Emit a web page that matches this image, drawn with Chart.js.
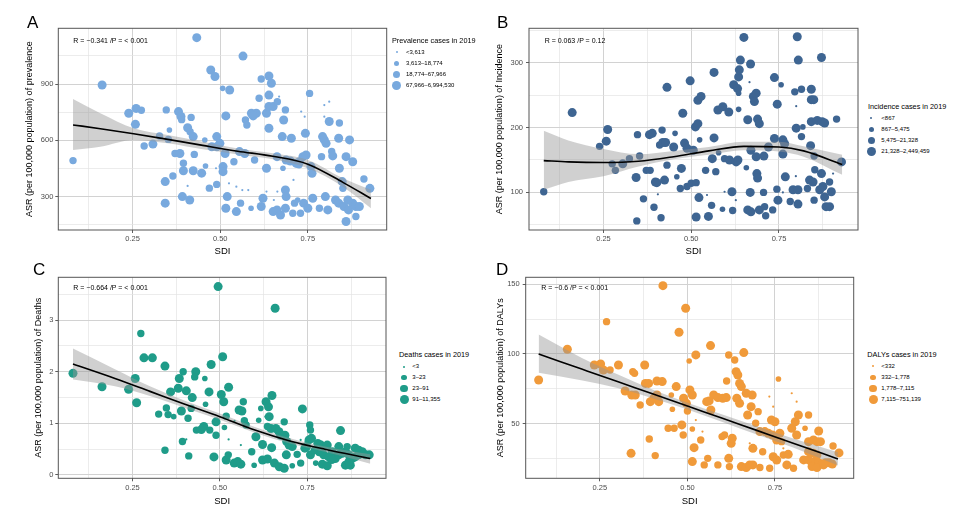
<!DOCTYPE html>
<html>
<head>
<meta charset="utf-8">
<script src="https://cdn.jsdelivr.net/npm/chart.js@4.4.0/dist/chart.umd.min.js"></script>
<style>
  html, body { margin: 0; padding: 0; background: #fff; }
  #page { position: relative; width: 966px; height: 509px; overflow: hidden; font-family: 'Liberation Sans', Arial, sans-serif; }
  .box { position: absolute; }
  .txt { position: absolute; white-space: nowrap; color: #000; }
  .dot { position: absolute; border-radius: 50%; }
</style>
</head>
<body>
<div id="page"></div>
<script>
(function() {
	'use strict';

	// shared x axis (SDI)
	const sdiMin = 0.038, sdiMax = 0.975;
	const xMajor = [0.25, 0.5, 0.75];
	const xMinor = [0.125, 0.375, 0.625, 0.875];
	const xLabels = ['0.25', '0.50', '0.75'];
	const radii = [1.1, 2.8, 3.7, 4.5];

	// A - prevalence
	const prevMajor = [300, 600, 900];
	const prevMinor = [150, 450, 750, 1050];
	const prevLabels = ['300', '600', '900'];
	const prevLegend = ['<3,613', '3,613–18,774', '18,774–67,966', '67,966–6,994,530'];
	const prevFitX = [0.08, 0.158, 0.253, 0.35, 0.45, 0.55, 0.65, 0.75, 0.85, 0.93];
	const prevFit = [682, 662, 635, 605, 573, 542, 515, 473, 376, 290];
	const prevHi = [820, 744, 664, 628, 593, 557, 531, 495, 398, 336];
	const prevLo = [548, 566, 602, 584, 552, 525, 499, 451, 353, 238];
	const prevPts = [
		[0.080,492,3],[0.163,895,4],[0.239,744,4],[0.260,770,4],[0.275,760,3],[0.258,685,4],[0.283,570,3],[0.308,580,4],
		[0.327,623,3],[0.346,762,3],[0.352,605,3],[0.355,655,2],[0.371,530,3],[0.385,530,4],[0.343,380,4],[0.343,265,4],
		[0.365,410,3],[0.381,753,4],[0.388,727,4],[0.390,710,3],[0.417,722,3],[0.395,478,3],[0.395,438,4],[0.407,667,4],
		[0.414,646,3],[0.423,620,4],[0.426,525,3],[0.392,300,4],[0.413,282,4],[0.407,357,1],[0.423,438,4],[0.433,1147,4],
		[0.447,425,4],[0.456,602,2],[0.458,463,2],[0.469,345,3],[0.473,975,4],[0.485,940,4],[0.476,566,4],[0.490,566,4],
		[0.499,584,4],[0.490,620,4],[0.490,365,3],[0.507,877,2],[0.527,868,4],[0.514,530,4],[0.508,460,4],[0.508,433,4],
		[0.516,730,4],[0.488,451,1],[0.520,300,4],[0.516,238,4],[0.539,486,3],[0.546,220,4],[0.558,265,3],[0.525,371,1],
		[0.546,353,1],[0.563,335,1],[0.580,335,1],[0.565,1049,4],[0.555,540,4],[0.570,530,4],[0.572,708,3],[0.576,682,3],
		[0.589,744,4],[0.603,744,4],[0.594,730,4],[0.588,238,2],[0.598,495,3],[0.611,824,3],[0.617,927,3],[0.622,291,4],
		[0.617,247,4],[0.632,744,4],[0.639,780,4],[0.639,943,4],[0.646,904,4],[0.639,841,4],[0.632,451,4],[0.639,664,4],
		[0.651,780,4],[0.651,220,4],[0.662,229,4],[0.672,202,4],[0.653,282,1],[0.662,513,4],[0.663,806,3],[0.668,833,1],
		[0.677,620,4],[0.681,708,4],[0.686,762,3],[0.688,495,4],[0.679,451,2],[0.686,335,4],[0.688,300,4],[0.686,238,4],
		[0.703,611,4],[0.707,211,3],[0.712,265,3],[0.709,389,1],[0.717,477,4],[0.726,486,4],[0.731,753,1],[0.741,726,1],
		[0.729,211,3],[0.721,282,2],[0.736,513,4],[0.745,522,4],[0.738,265,4],[0.750,238,4],[0.743,637,4],[0.755,850,3],
		[0.759,460,4],[0.762,424,4],[0.764,291,4],[0.789,513,3],[0.792,620,4],[0.797,602,4],[0.802,584,4],[0.797,788,1],
		[0.811,806,1],[0.797,726,1],[0.811,700,4],[0.818,540,3],[0.783,238,3],[0.800,300,4],[0.807,229,4],[0.821,517,4],
		[0.840,451,4],[0.838,611,4],[0.840,692,3],[0.848,380,4],[0.850,344,3],[0.859,513,4],[0.878,486,4],[0.869,602,4],
		[0.829,282,4],[0.838,265,4],[0.853,247,4],[0.866,229,4],[0.878,265,4],[0.887,247,4],[0.897,247,4],[0.859,167,4],
		[0.887,194,3],[0.910,394,3],[0.927,344,4],[0.864,282,4],[0.632,327,1],[0.663,327,1],[0.700,490,4],[0.725,470,3]
	];

	// B - incidence
	const incMajor = [100, 200, 300];
	const incMinor = [50, 150, 250, 350];
	const incLabels = ['100', '200', '300'];
	const incLegend = ['<867', '867–5,475', '5,475–21,328', '21,328–2,449,459'];
	const incFitX = [0.08, 0.15, 0.25, 0.35, 0.45, 0.55, 0.65, 0.75, 0.82, 0.93];
	const incFit = [149, 147, 146, 148, 155, 164, 171, 170, 164, 143];
	const incHi = [195, 180, 167, 159, 164, 170, 178, 178, 171, 158];
	const incLo = [104, 116, 125, 140, 151, 158, 165, 163, 155, 127];
	const incPts = [
		[0.080,101,3],[0.161,223,4],[0.239,171,3],[0.258,179,4],[0.262,197,4],[0.275,144,3],[0.284,134,3],[0.305,144,4],
		[0.324,152,3],[0.343,123,4],[0.345,56,3],[0.347,189,3],[0.353,156,3],[0.364,90,3],[0.372,134,3],[0.383,134,3],
		[0.381,189,4],[0.389,191,4],[0.394,77,3],[0.398,116,4],[0.402,115,4],[0.405,97,1],[0.410,173,3],[0.414,61,3],
		[0.417,196,3],[0.419,177,4],[0.427,177,4],[0.424,119,4],[0.431,262,4],[0.431,142,3],[0.450,170,4],[0.454,191,2],
		[0.459,124,2],[0.469,106,3],[0.472,137,4],[0.476,222,4],[0.481,176,4],[0.488,168,4],[0.488,109,3],[0.500,114,3],
		[0.514,115,3],[0.497,272,4],[0.506,165,4],[0.512,201,4],[0.519,206,4],[0.519,242,4],[0.528,248,4],[0.514,62,4],
		[0.522,92,4],[0.524,181,2],[0.541,134,3],[0.549,63,4],[0.560,152,4],[0.565,285,4],[0.565,184,4],[0.570,132,3],
		[0.558,80,3],[0.578,161,2],[0.576,227,4],[0.590,232,4],[0.607,224,4],[0.589,74,2],[0.595,152,3],[0.609,150,4],
		[0.628,147,4],[0.633,150,4],[0.616,101,4],[0.618,72,3],[0.621,266,4],[0.632,260,4],[0.635,278,4],[0.637,289,4],
		[0.640,304,4],[0.635,253,2],[0.635,228,2],[0.650,339,4],[0.657,138,2],[0.661,212,4],[0.661,73,4],[0.670,70,4],
		[0.694,73,4],[0.669,298,4],[0.668,100,4],[0.670,165,4],[0.677,248,4],[0.685,253,4],[0.680,240,4],[0.685,155,4],
		[0.687,129,4],[0.689,122,4],[0.689,213,4],[0.694,206,4],[0.706,100,3],[0.707,156,4],[0.709,78,3],[0.712,64,3],
		[0.720,170,4],[0.732,73,3],[0.737,277,4],[0.737,183,4],[0.745,236,4],[0.744,105,3],[0.747,88,4],[0.756,266,2],
		[0.761,181,4],[0.766,175,4],[0.761,159,4],[0.768,124,4],[0.782,86,3],[0.790,104,4],[0.804,104,4],[0.795,255,3],
		[0.799,199,4],[0.802,340,4],[0.805,304,4],[0.804,82,4],[0.814,259,3],[0.814,186,3],[0.818,201,2],[0.831,106,3],
		[0.837,119,4],[0.847,116,4],[0.842,259,4],[0.842,243,4],[0.849,243,4],[0.842,209,4],[0.840,172,4],[0.850,156,3],
		[0.852,135,3],[0.850,88,3],[0.859,211,4],[0.873,209,4],[0.880,207,4],[0.871,308,4],[0.866,104,4],[0.875,109,4],
		[0.880,93,4],[0.871,129,4],[0.884,78,4],[0.894,78,4],[0.894,116,3],[0.899,101,4],[0.914,213,3],[0.928,147,4],
		[0.666,270,1],[0.761,100,1],[0.799,233,1],[0.798,125,1],[0.904,129,1],[0.545,96,1],[0.595,101,1],[0.627,88,1]
	];

	// C - deaths
	const dthMajor = [0, 1, 2, 3];
	const dthMinor = [0.5, 1.5, 2.5, 3.5];
	const dthLabels = ['0', '1', '2', '3'];
	const dthLegend = ['<3', '3–23', '23–91', '91–11,355'];
	const dthFitX = [0.08, 0.2, 0.3, 0.4, 0.5, 0.6, 0.7, 0.8, 0.93];
	const dthFit = [2.15, 1.87, 1.62, 1.37, 1.13, 0.87, 0.66, 0.50, 0.32];
	const dthHi = [2.45, 2.05, 1.72, 1.44, 1.19, 0.93, 0.71, 0.55, 0.40];
	const dthLo = [1.85, 1.72, 1.53, 1.30, 1.07, 0.82, 0.61, 0.45, 0.22];
	const dthPts = [
		[0.080,1.97,4],[0.163,1.71,4],[0.239,1.66,4],[0.258,1.87,4],[0.262,1.40,4],[0.274,2.74,3],[0.283,2.27,4],[0.307,2.27,4],
		[0.325,1.18,3],[0.343,2.11,4],[0.343,0.48,3],[0.347,1.30,3],[0.352,1.17,3],[0.359,1.61,4],[0.368,1.13,2],[0.384,1.87,4],
		[0.381,1.68,4],[0.395,2.00,3],[0.393,0.65,3],[0.390,1.24,4],[0.404,1.63,4],[0.409,1.10,3],[0.411,0.37,3],[0.418,1.29,3],
		[0.421,1.50,4],[0.431,2.00,4],[0.428,1.90,3],[0.433,0.87,3],[0.447,0.88,4],[0.454,0.94,4],[0.457,1.87,2],[0.459,1.37,2],
		[0.469,1.61,4],[0.471,0.87,3],[0.475,2.14,4],[0.483,0.35,4],[0.489,0.77,3],[0.489,1.03,4],[0.495,3.65,4],[0.504,1.56,4],
		[0.511,1.42,4],[0.508,2.29,4],[0.513,0.92,2],[0.518,1.14,3],[0.518,0.29,4],[0.524,0.39,3],[0.525,0.69,1],[0.525,1.70,4],
		[0.541,0.23,4],[0.551,0.26,4],[0.560,0.21,4],[0.555,1.26,4],[0.563,1.24,4],[0.567,1.42,3],[0.570,1.05,3],[0.575,0.97,3],
		[0.591,0.45,3],[0.598,0.19,2],[0.603,0.74,4],[0.611,1.06,2],[0.617,1.29,2],[0.622,0.59,4],[0.622,0.29,4],[0.636,0.31,4],
		[0.630,1.13,1],[0.632,1.42,4],[0.639,1.32,4],[0.641,1.13,4],[0.636,0.94,3],[0.646,0.90,4],[0.649,1.54,4],[0.648,0.53,4],
		[0.658,3.23,4],[0.660,0.90,4],[0.669,0.84,4],[0.674,0.77,4],[0.656,0.23,4],[0.670,0.16,4],[0.684,0.13,4],[0.684,1.03,3],
		[0.686,0.77,4],[0.691,0.65,4],[0.698,0.58,4],[0.707,0.55,4],[0.690,0.39,4],[0.707,0.18,2],[0.721,0.40,3],[0.736,1.28,4],
		[0.731,0.23,3],[0.743,0.52,4],[0.748,0.55,4],[0.757,0.97,3],[0.759,0.87,3],[0.755,0.68,4],[0.762,0.71,4],[0.759,0.39,4],
		[0.745,0.65,1],[0.774,0.23,2],[0.780,0.61,4],[0.789,0.58,4],[0.797,0.55,4],[0.807,0.58,4],[0.784,0.45,4],[0.797,0.39,4],
		[0.811,0.35,4],[0.793,0.21,4],[0.807,0.18,4],[0.821,0.45,4],[0.830,0.32,4],[0.840,0.39,4],[0.850,0.42,4],[0.859,0.45,4],
		[0.869,0.39,4],[0.878,0.32,4],[0.887,0.35,4],[0.897,0.39,4],[0.907,0.45,4],[0.916,0.39,4],[0.845,0.86,4],[0.840,0.55,4],
		[0.864,0.55,3],[0.859,0.19,4],[0.873,0.19,4],[0.869,0.26,4],[0.887,0.52,4],[0.897,0.48,4],[0.927,0.39,4],[0.911,0.42,3],
		[0.542,1.05,1],[0.404,0.69,1],[0.560,0.58,1],[0.731,0.68,1],[0.820,0.30,4],[0.770,0.48,3]
	];

	// D - DALYs
	const dalyMajor = [50, 100, 150];
	const dalyMinor = [25, 75, 125];
	const dalyLabels = ['50', '100', '150'];
	const dalyLegend = ['<332', '332–1,778', '1,778–7,115', '7,115–751,139'];
	const dalyFitX = [0.075, 0.2, 0.3, 0.4, 0.5, 0.6, 0.7, 0.8, 0.93];
	const dalyFit = [100, 89, 80.2, 71.4, 62.6, 53.8, 45, 36.2, 24.7];
	const dalyHi = [114, 97, 85.5, 74.5, 65, 56.5, 48, 39.5, 29.5];
	const dalyLo = [86.5, 81, 75.5, 68.3, 60.2, 51.2, 42, 33, 20];
	const dalyPts = [
		[0.075,81.3,4],[0.157,103.4,4],[0.234,92.1,4],[0.252,92.8,4],[0.260,88.5,4],[0.279,88.5,3],[0.269,123.2,3],[0.303,92.1,4],
		[0.322,73.4,4],[0.341,70.6,4],[0.351,70.6,4],[0.344,87.3,3],[0.349,86.1,3],[0.339,28.7,4],[0.365,63.4,3],[0.378,92.1,4],
		[0.380,78.9,4],[0.389,78.9,4],[0.394,65.8,4],[0.404,68.2,4],[0.391,39.0,3],[0.408,27.1,3],[0.413,80.6,4],[0.428,80.2,4],
		[0.413,70.6,4],[0.418,65.8,4],[0.430,149,4],[0.445,46.7,3],[0.454,70.6,2],[0.457,60.3,2],[0.462,46.7,3],[0.468,76.6,4],
		[0.476,115.6,4],[0.484,49.1,4],[0.488,41.9,3],[0.489,68.2,4],[0.497,64.6,4],[0.495,132.8,4],[0.500,59.1,3],[0.507,74.2,4],
		[0.514,70.6,4],[0.505,95,2],[0.514,46.2,2],[0.519,32.8,4],[0.524,99.3,4],[0.514,22.8,4],[0.538,38.3,3],[0.548,20.4,3],
		[0.555,65.8,4],[0.562,66.3,4],[0.558,25.1,3],[0.566,106,4],[0.567,59.8,4],[0.575,70.6,4],[0.587,68.7,4],[0.601,68.2,4],
		[0.611,68.7,4],[0.587,20.4,3],[0.599,40.7,3],[0.606,41.9,3],[0.618,99.3,3],[0.612,80.6,3],[0.618,25.1,4],[0.620,19.2,3],
		[0.625,35.9,4],[0.628,39.5,4],[0.635,95.7,3],[0.639,87.3,4],[0.644,84.9,4],[0.641,68.2,4],[0.649,64.6,4],[0.649,78.9,4],
		[0.654,76.6,4],[0.654,19.2,4],[0.668,18.5,4],[0.678,20.4,4],[0.661,101,4],[0.668,71.8,4],[0.672,56.2,4],[0.682,62.2,4],
		[0.685,70.6,4],[0.687,32.3,4],[0.687,20.4,4],[0.707,18.5,3],[0.695,50.3,3],[0.702,58.6,3],[0.707,44.3,4],[0.721,44.3,4],
		[0.731,43.1,4],[0.715,29.9,3],[0.735,18.0,3],[0.740,52.6,4],[0.750,51.4,4],[0.743,41.9,4],[0.755,38.3,4],[0.745,26.3,4],
		[0.755,23.9,4],[0.760,82.0,2],[0.764,43.1,4],[0.769,37.1,3],[0.774,27.5,3],[0.784,20.4,4],[0.788,28.0,4],[0.798,46.7,4],
		[0.808,51.4,4],[0.812,41.9,4],[0.803,18.0,3],[0.817,56.2,4],[0.836,46.7,2],[0.846,56.2,3],[0.846,37.1,4],[0.860,38.3,4],
		[0.870,37.1,4],[0.880,37.1,4],[0.875,44.7,4],[0.832,24.0,4],[0.846,24.0,4],[0.856,22.0,4],[0.866,23.0,4],[0.875,22.0,4],
		[0.885,21.0,4],[0.895,22.0,4],[0.904,22.0,4],[0.914,21.0,4],[0.846,29.9,4],[0.860,28.7,4],[0.870,27.5,4],[0.856,19.2,4],
		[0.870,18.5,4],[0.889,20.4,4],[0.916,34.0,3],[0.933,29.0,4],[0.734,69.4,1],[0.745,62.2,1],[0.812,65.8,1],[0.798,71.8,1],
		[0.524,52.6,1],[0.543,44.3,1],[0.678,35.9,1],[0.745,27.5,1],[0.774,32.3,1]
	];

	const page = document.getElementById('page');
	const FONT = "'Liberation Sans', Arial, sans-serif";

	function addText(text, left, cy, size, extra) {
		const d = document.createElement('div');
		d.className = 'txt';
		d.textContent = text;
		const lh = Math.round(size * 1.2);
		d.style.left = left + 'px';
		d.style.top = (cy - lh / 2) + 'px';
		d.style.fontSize = size + 'px';
		d.style.lineHeight = lh + 'px';
		if (extra) Object.assign(d.style, extra);
		page.appendChild(d);
	}

	function addLegend(p) {
		addText(p.legendTitle, p.lgX, p.lgY, 7.3);
		p.legend.forEach((lab, i) => {
			const r = radii[i];
			const cy = p.lgY + 12.3 + i * 11;
			const dot = document.createElement('div');
			dot.className = 'dot';
			dot.style.width = (2 * r) + 'px';
			dot.style.height = (2 * r) + 'px';
			dot.style.left = (p.lgX + p.dotDx - r) + 'px';
			dot.style.top = (cy - r) + 'px';
			dot.style.background = p.color;
			page.appendChild(dot);
			addText(lab, p.lgX + p.textDx, cy, 6);
		});
	}

	const near = (list, v) => list.findIndex(m => Math.abs(m - v) < 1e-6);

	const framePlugin = {
		id: 'frame',
		afterDraw(chart) {
			const { ctx, chartArea: a } = chart;
			ctx.save();
			ctx.strokeStyle = '#555';
			ctx.lineWidth = 1;
			ctx.strokeRect(a.left, a.top, a.right - a.left, a.bottom - a.top);
			ctx.restore();
		}
	};

	function gridOpts(major) {
		return {
			color: c => near(major, c.tick.value) >= 0 ? '#d2d2d2' : '#e4e4e4',
			lineWidth: c => near(major, c.tick.value) >= 0 ? 1 : 0.7,
			tickColor: c => near(major, c.tick.value) >= 0 ? '#333' : 'rgba(0,0,0,0)',
			tickLength: 3,
			tickWidth: 0.8,
			drawTicks: true
		};
	}

	function makePanel(p) {
		const wrap = document.createElement('div');
		wrap.className = 'box';
		wrap.style.left = p.cx + 'px';
		wrap.style.top = p.cy + 'px';
		wrap.style.width = p.cw + 'px';
		wrap.style.height = p.ch + 'px';
		const cv = document.createElement('canvas');
		wrap.appendChild(cv);
		page.appendChild(wrap);

		const line = (ys) => p.fitX.map((x, i) => ({ x, y: ys[i] }));

		new Chart(cv.getContext('2d'), {
			type: 'scatter',
			data: {
				datasets: [
					{
						data: p.pts.map(r => ({ x: r[0], y: r[1] })),
						pointRadius: p.pts.map(r => radii[r[2] - 1]),
						pointBackgroundColor: p.color,
						pointBorderWidth: 0,
						order: 3
					},
					{
						type: 'line', data: line(p.hi), borderWidth: 0, pointRadius: 0,
						fill: '+1', backgroundColor: 'rgba(150,150,150,0.45)', cubicInterpolationMode: 'monotone', order: 2
					},
					{
						type: 'line', data: line(p.lo), borderWidth: 0, pointRadius: 0,
						fill: false, cubicInterpolationMode: 'monotone', order: 2
					},
					{
						type: 'line', data: line(p.fit), borderColor: '#000', borderWidth: 1.6, pointRadius: 0,
						fill: false, cubicInterpolationMode: 'monotone', order: 1
					}
				]
			},
			options: {
				responsive: true,
				maintainAspectRatio: false,
				animation: false,
				events: [],
				layout: { padding: { left: 0, top: p.T - p.cy, right: p.cx + p.cw - p.R, bottom: 0 } },
				plugins: { legend: { display: false }, tooltip: { enabled: false } },
				scales: {
					x: {
						type: 'linear', min: sdiMin, max: sdiMax,
						afterBuildTicks: s => { s.ticks = xMajor.concat(xMinor).sort((a, b) => a - b).map(v => ({ value: v })); },
						afterFit: s => { s.height = p.cy + p.ch - p.B; },
						ticks: {
							autoSkip: false, maxRotation: 0, padding: p.xPad, color: '#4d4d4d',
							font: { family: FONT, size: 7.5 },
							callback: v => { const i = near(xMajor, v); return i < 0 ? '' : xLabels[i]; }
						},
						grid: gridOpts(xMajor),
						border: { display: false },
						title: { display: true, text: 'SDI', color: '#000', font: { family: FONT, size: 9.5 }, padding: { top: 0, bottom: p.xTitlePad } }
					},
					y: {
						type: 'linear', min: p.yMin, max: p.yMax,
						afterBuildTicks: s => { s.ticks = p.yMajor.concat(p.yMinor).sort((a, b) => a - b).map(v => ({ value: v })); },
						afterFit: s => { s.width = p.L - p.cx; },
						ticks: {
							autoSkip: false, padding: p.yPad, color: '#4d4d4d',
							font: { family: FONT, size: 7.5 },
							callback: v => { const i = near(p.yMajor, v); return i < 0 ? '' : p.yLabels[i]; }
						},
						grid: gridOpts(p.yMajor),
						border: { display: false },
						title: {
							display: true, text: p.yTitle, color: '#000', font: { family: FONT, size: 9 },
							padding: { top: p.yTitleX - p.cx - 5.4, bottom: 0 }
						}
					}
				}
			},
			plugins: [framePlugin]
		});

		addText(p.letter, p.letterX, p.letterY, 17);
		addText(p.stat, p.statX, p.statY, 7);
		addLegend(p);
	}

	makePanel({
		letter: 'A', letterX: 27, letterY: 22.5, stat: 'R =  −0.341 /P =  < 0.001', statX: 73.3, statY: 40.7,
		cx: 0, cy: 0, cw: 392, ch: 262, L: 58.3, T: 28.3, R: 386.7, B: 230,
		yMin: 122, yMax: 1197, yMajor: prevMajor, yMinor: prevMinor, yLabels: prevLabels,
		yTitle: 'ASR (per 100,000 population) of prevalence', yTitleX: 29.3, yPad: 2, xPad: 1.8, xTitlePad: 5.3,
		pts: prevPts, fitX: prevFitX, fit: prevFit, hi: prevHi, lo: prevLo, color: '#78a9de',
		legendTitle: 'Prevalence cases in 2019', legend: prevLegend, lgX: 392, lgY: 40, dotDx: 4.7, textDx: 14
	});

	makePanel({
		letter: 'B', letterX: 497, letterY: 22.5, stat: 'R =  0.063 /P =  0.12', statX: 544.7, statY: 41,
		cx: 471, cy: 0, cw: 392, ch: 262, L: 529, T: 28.3, R: 858, B: 230,
		yMin: 42, yMax: 353, yMajor: incMajor, yMinor: incMinor, yLabels: incLabels,
		yTitle: 'ASR (per 100,000 population) of Incidence', yTitleX: 499.7, yPad: 3, xPad: 1.8, xTitlePad: 5.3,
		pts: incPts, fitX: incFitX, fit: incFit, hi: incHi, lo: incLo, color: '#3e6592',
		legendTitle: 'Incidence cases in 2019', legend: incLegend, lgX: 868, lgY: 106, dotDx: 3.3, textDx: 13.3
	});

	makePanel({
		letter: 'C', letterX: 33, letterY: 269.5, stat: 'R =  −0.664 /P =  < 0.001', statX: 73.3, statY: 288.3,
		cx: 0, cy: 255, cw: 392, ch: 254, L: 58.3, T: 277.3, R: 386, B: 478.3,
		yMin: -0.064, yMax: 3.83, yMajor: dthMajor, yMinor: dthMinor, yLabels: dthLabels,
		yTitle: 'ASR (per 100,000 population) of Deaths', yTitleX: 38.3, yPad: 2, xPad: 1.9, xTitlePad: 2.3,
		pts: dthPts, fitX: dthFitX, fit: dthFit, hi: dthHi, lo: dthLo, color: '#1f9c89',
		legendTitle: 'Deaths cases in 2019', legend: dthLegend, lgX: 399, lgY: 354.3, dotDx: 5, textDx: 13.3
	});

	makePanel({
		letter: 'D', letterX: 496, letterY: 269.5, stat: 'R =  −0.6 /P =  < 0.001', statX: 541.3, statY: 288.3,
		cx: 468, cy: 255, cw: 392, ch: 254, L: 525.7, T: 277.3, R: 853.7, B: 478.3,
		yMin: 10.8, yMax: 155, yMajor: dalyMajor, yMinor: dalyMinor, yLabels: dalyLabels,
		yTitle: 'ASR (per 100,000 population) of DALYs', yTitleX: 501, yPad: 3, xPad: 1.9, xTitlePad: 2.3,
		pts: dalyPts, fitX: dalyFitX, fit: dalyFit, hi: dalyHi, lo: dalyLo, color: '#f09a3a',
		legendTitle: 'DALYs cases in 2019', legend: dalyLegend, lgX: 867.3, lgY: 354, dotDx: 5.7, textDx: 14
	});
})();
</script>
</body>
</html>
